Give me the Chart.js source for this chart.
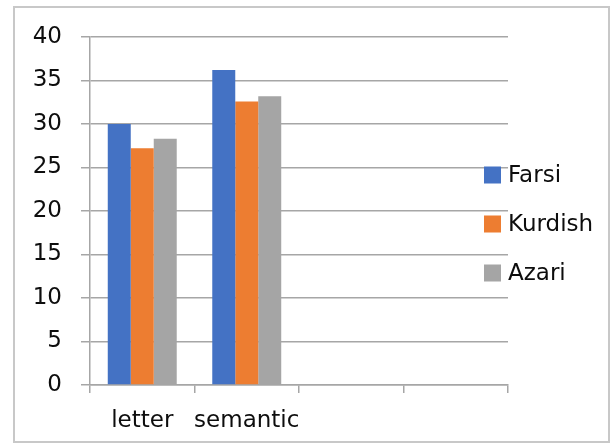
<!DOCTYPE html>
<html>
<head>
<meta charset="utf-8">
<style>
  html, body { margin: 0; padding: 0; background: #fff; }
  #wrap { width: 610px; height: 443px; position: relative; }
</style>
<script src="https://cdn.jsdelivr.net/npm/chart.js@4/dist/chart.umd.min.js"></script>
</head>
<body>
<div id="wrap"><canvas id="c" width="610" height="443"></canvas></div>
<script>
// Test categories (two unused slots keep the axis four categories wide)
const categories = ['letter', 'semantic', '', ''];
const seriesNames = ['Farsi', 'Kurdish', 'Azari'];
const farsi = [30.0, 36.2, null, null];
const kurdish = [27.2, 32.6, null, null];
const azari = [28.3, 33.2, null, null];
const yTicks = [0, 5, 10, 15, 20, 25, 30, 35, 40];

const colors = ['#4472C4', '#ED7D31', '#A5A5A5'];
const FONT = '"DejaVu Sans", sans-serif';
const FONT_SIZE = 23;
const TEXT = '#0D0D0D';
const GRID = '#A6A6A6';

// Outer frame around the whole figure
const framePlugin = {
  id: 'frame',
  beforeDraw(chart) {
    const ctx = chart.ctx;
    ctx.save();
    ctx.fillStyle = '#fff';
    ctx.fillRect(0, 0, chart.width, chart.height);
    ctx.strokeStyle = '#C8C8C8';
    ctx.lineWidth = 2;
    ctx.strokeRect(14, 7, 595, 435);
    ctx.restore();
  }
};

// Legend drawn at the right, partly over the plot's grid lines
const sideLegend = {
  id: 'sideLegend',
  afterDraw(chart) {
    const ctx = chart.ctx;
    const ys = [175, 224, 273];
    ctx.save();
    ctx.font = FONT_SIZE + 'px ' + FONT;
    ctx.textBaseline = 'middle';
    ctx.textAlign = 'left';
    chart.data.datasets.forEach((ds, i) => {
      ctx.fillStyle = ds.backgroundColor;
      ctx.fillRect(484, ys[i] - 8.5, 17, 17);
      ctx.fillStyle = TEXT;
      ctx.fillText(ds.label, 508, ys[i] + 1);
    });
    ctx.restore();
  }
};

new Chart(document.getElementById('c'), {
  type: 'bar',
  data: {
    labels: categories,
    datasets: [
      { label: seriesNames[0], data: farsi, backgroundColor: colors[0] },
      { label: seriesNames[1], data: kurdish, backgroundColor: colors[1] },
      { label: seriesNames[2], data: azari, backgroundColor: colors[2] }
    ]
  },
  options: {
    responsive: false,
    animation: false,
    devicePixelRatio: 1,
    layout: { padding: { left: 0, right: 102, top: 37, bottom: 0 } },
    datasets: { bar: { categoryPercentage: 0.66, barPercentage: 1.0 } },
    plugins: { legend: { display: false }, tooltip: { enabled: false } },
    scales: {
      x: {
        grid: {
          offset: true,
          drawOnChartArea: false,
          drawTicks: true,
          tickLength: 8,
          color: GRID,
          lineWidth: 1.5
        },
        border: { color: GRID, width: 1.5 },
        ticks: {
          color: TEXT,
          font: { family: FONT, size: FONT_SIZE },
          padding: 14,
          maxRotation: 0,
          autoSkip: false
        },
        afterFit(scale) { scale.height = 58; }
      },
      y: {
        min: 0,
        max: 40,
        afterBuildTicks(scale) { scale.ticks = yTicks.map(v => ({ value: v })); },
        grid: {
          color: GRID,
          lineWidth: 1.5,
          drawTicks: true,
          tickLength: 9
        },
        border: { color: GRID, width: 1.5 },
        ticks: {
          color: TEXT,
          font: { family: FONT, size: FONT_SIZE },
          padding: 19
        },
        afterFit(scale) { scale.width = 90; }
      }
    }
  },
  plugins: [framePlugin, sideLegend]
});
</script>
</body>
</html>
